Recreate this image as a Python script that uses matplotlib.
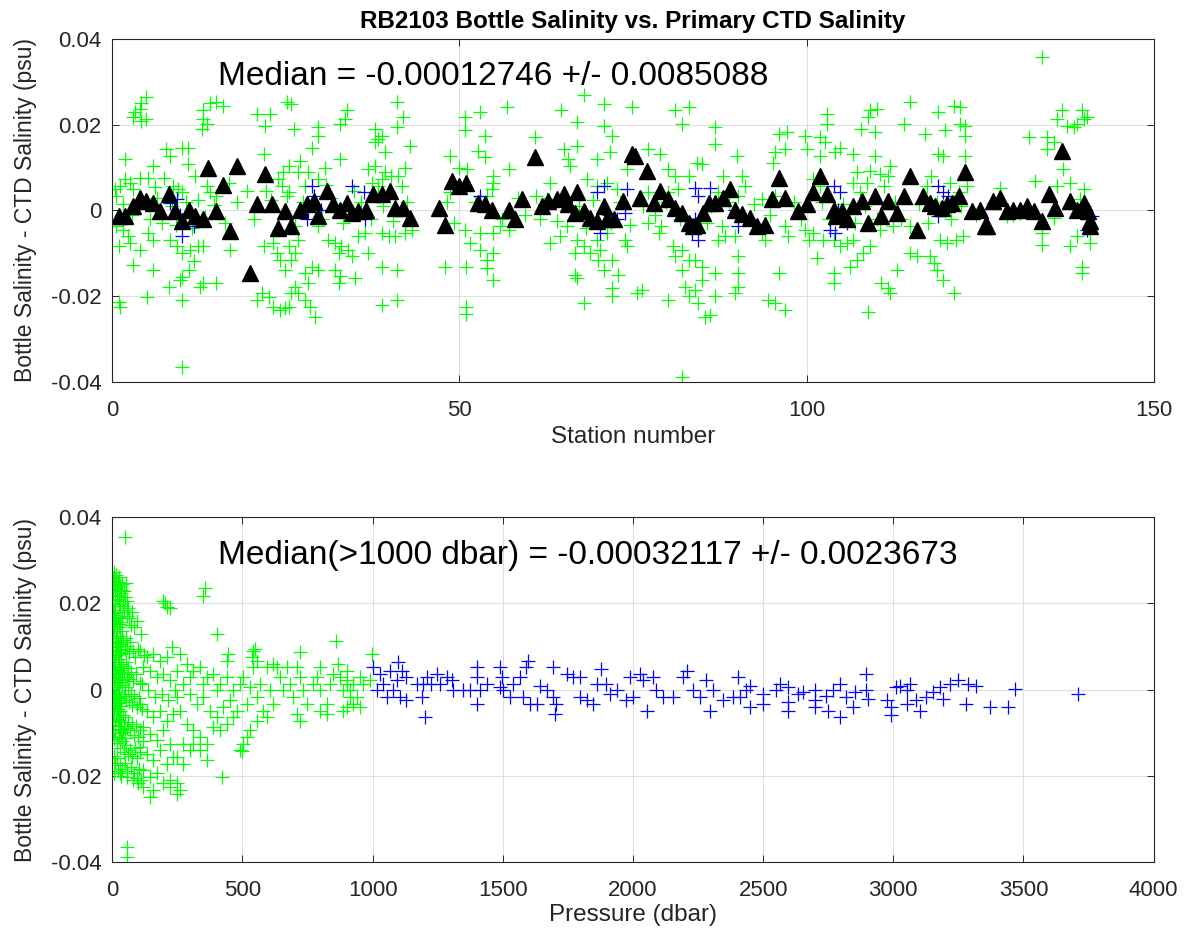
import numpy as np
import matplotlib
matplotlib.use('Agg')
import matplotlib.pyplot as plt

plt.rcParams['font.family'] = ['Liberation Sans', 'DejaVu Sans']

# ---- top panel: salinity difference vs station ----
# all bottles (station, bottle - ctd)
green_top = np.array([
    (4.9, 0.0265), (4.2, 0.025), (3.3, 0.023), (4.0, 0.0238), (3.0, 0.0218), (4.9, 0.0214), (4.2, 0.0208),
    (15.0, 0.0253), (14.1, 0.025), (16.0, 0.0245), (13.1, 0.0234), (13.1, 0.0214), (13.6, 0.0202), (12.9, 0.019),
    (20.8, 0.0226), (22.7, 0.0226), (22.0, 0.0198), (25.1, 0.0253),
    (7.8, 0.0143), (10.0, 0.0147), (10.9, 0.0147), (1.8, 0.012), (5.9, 0.0104), (10.9, 0.0108), (8.3, 0.0128), (21.8, 0.0132),
    (11.9, 0.0081), (4.0, 0.0077), (5.2, 0.0077), (0.4, 0.005), (1.1, 0.0057), (1.8, 0.0073), (2.5, 0.0065), (3.0, 0.005), (0.6, 0.0034),
    (8.8, 0.0057), (9.5, 0.005), (10.0, 0.0042), (13.6, 0.0057), (14.1, 0.0042), (15.0, 0.0034),
    (24.6, 0.0089), (23.9, 0.0073), (24.4, 0.0057), (25.1, 0.0034), (22.2, 0.0045),
    (0.6, -0.0037), (1.6, -0.0045), (2.3, -0.006), (0.9, -0.0084), (2.5, -0.0076), (4.0, -0.0092), (5.9, -0.0068), (5.2, -0.0053),
    (3.0, -0.0127), (5.9, -0.0139), (8.1, -0.0178), (5.0, -0.0202), (0.9, -0.0213), (1.1, -0.0225), (10.0, -0.021), (10.0, -0.0366),
    (8.3, -0.0068), (9.3, -0.0084), (10.0, -0.01), (11.2, -0.0092), (12.4, -0.0084), (11.7, -0.0119), (13.1, -0.0084),
    (10.0, -0.0155), (11.0, -0.0139), (9.8, -0.0162), (12.6, -0.0178), (13.1, -0.017), (15.0, -0.017), (17.0, -0.0092),
    (21.8, -0.0084), (23.2, -0.0076), (23.7, -0.01), (24.2, -0.0115), (24.9, -0.0139),
    (21.5, -0.0194), (20.8, -0.0209), (22.5, -0.0202), (23.2, -0.0225), (24.2, -0.0233), (24.9, -0.0229),
    (1.5, 0.0015), (2.8, -0.001), (3.8, 0.002), (5.5, -0.002), (6.5, 0.003), (7.2, -0.003), (8.6, 0.001), (9.2, -0.0035),
    (10.6, 0.002), (11.5, -0.004), (12.3, 0.0025), (13.4, -0.0015), (14.6, 0.0012), (16.2, -0.003), (18.0, 0.002),
    (20.4, -0.002), (22.9, 0.0025), (24.0, -0.0045), (6.2, 0.0055), (7.5, 0.0075), (16.8, 0.0065), (19.4, 0.0045),
    (25.8, 0.0249), (26.1, 0.019), (33.8, 0.0234), (33.5, 0.0214), (32.8, 0.0202), (29.7, 0.0194), (29.7, 0.0175), (28.7, 0.0147),
    (41.0, 0.0253), (41.9, 0.0218), (41.0, 0.0194), (37.8, 0.019), (38.3, 0.0167), (38.8, 0.0175), (37.8, 0.0159), (39.3, 0.0136), (42.9, 0.0151),
    (32.8, 0.012), (27.0, 0.0116), (25.4, 0.0104), (28.2, 0.0089), (30.6, 0.01), (29.7, 0.0073),
    (36.9, 0.0096), (37.8, 0.0104), (39.3, 0.0089), (40.2, 0.0081), (42.2, 0.01), (41.2, 0.0081),
    (37.4, 0.0065), (38.8, 0.0073), (38.3, 0.0057), (39.8, 0.0042), (41.7, 0.0057),
    (48.7, 0.0128), (49.9, 0.01), (49.4, 0.0057), (48.7, 0.0042), (26.8, 0.0089), (27.8, 0.0057), (25.4, 0.0042),
    (26.3, -0.0037), (26.8, -0.0068), (25.4, -0.0084), (26.3, -0.01), (25.8, -0.0115),
    (29.7, -0.0037), (31.1, -0.0068), (32.1, -0.0076), (33.0, -0.0084), (34.0, -0.0092), (34.5, -0.0107), (32.6, -0.01),
    (36.9, -0.01), (36.4, -0.0053), (35.4, -0.006), (38.8, -0.0053), (39.8, -0.006), (40.7, -0.006), (42.2, -0.0053), (43.1, -0.0045),
    (28.7, -0.0131), (29.7, -0.0139), (27.8, -0.0147), (28.2, -0.017), (26.3, -0.0178), (25.8, -0.0194), (26.8, -0.0194), (25.4, -0.0225),
    (27.8, -0.0209), (28.5, -0.0225), (29.2, -0.0249), (32.1, -0.0139), (32.8, -0.0154), (32.6, -0.017), (35.0, -0.0158),
    (38.8, -0.0131), (41.0, -0.0139), (41.0, -0.0209), (38.8, -0.0221), (47.9, -0.0131),
    (27.5, 0.002), (30.2, -0.002), (31.5, 0.003), (33.2, -0.003), (35.8, 0.002), (37.2, -0.002), (39.0, 0.001),
    (40.5, -0.0025), (42.5, 0.002), (48.2, 0.002), (49.2, -0.003), (34.8, 0.0045), (30.8, 0.006),
    (50.8, 0.0218), (50.8, 0.0187), (53.0, 0.023), (56.8, 0.0241), (53.7, 0.0175), (60.9, 0.0171), (64.7, 0.0234), (66.9, 0.0206), (67.9, 0.0269),
    (70.8, 0.0249), (70.8, 0.0198), (72.0, 0.0175), (71.7, 0.0136), (74.8, 0.0241),
    (52.7, 0.014), (53.7, 0.0124), (57.1, 0.0096), (51.1, 0.0096), (54.9, 0.0081),
    (65.0, 0.0143), (66.9, 0.0151), (65.7, 0.012), (66.0, 0.0104), (69.8, 0.012), (74.1, 0.0096), (63.1, 0.0065),
    (54.9, 0.0065), (54.7, 0.0049), (54.0, 0.0034), (61.1, 0.0034), (62.6, 0.0026),
    (68.4, 0.0073), (69.8, 0.0057), (71.2, 0.0065), (72.7, 0.0049),
    (50.8, -0.0045), (53.0, -0.0053), (54.9, -0.0053), (55.9, -0.0037), (57.1, -0.0045), (51.5, -0.0076), (53.0, -0.0092),
    (54.9, -0.01), (54.0, -0.0115), (51.0, -0.0131), (54.0, -0.0135), (54.9, -0.0162), (51.0, -0.0225), (51.0, -0.0241),
    (61.6, -0.0021), (63.1, -0.0076), (64.5, -0.006), (65.5, -0.0037),
    (66.9, -0.0068), (66.7, -0.01), (67.9, -0.0084), (68.8, -0.01), (69.8, -0.0068), (70.3, -0.0092), (70.0, -0.0115), (71.2, -0.0053),
    (66.7, -0.0151), (66.9, -0.0158), (67.9, -0.0217),
    (70.8, -0.0139), (72.0, -0.0115), (72.9, -0.0151), (72.0, -0.0182), (72.0, -0.0201),
    (73.9, -0.0068), (74.1, -0.0084), (75.6, -0.0194),
    (52.2, 0.002), (56.2, -0.002), (58.5, 0.003), (59.5, -0.001), (62.2, 0.0015), (64.0, -0.0025), (67.2, 0.001),
    (68.2, -0.004), (69.2, 0.0025), (71.8, -0.003), (73.2, 0.002), (74.6, -0.0035),
    (81.1, 0.0234), (83.0, 0.0241), (82.0, 0.0202), (86.8, 0.0194), (86.8, 0.0155),
    (90.0, 0.0128), (84.2, 0.0112), (84.9, 0.0108), (77.2, 0.0143), (78.9, 0.0132),
    (96.0, 0.0179), (97.2, 0.0183), (95.5, 0.0136), (96.9, 0.0143), (95.2, 0.0112), (99.8, 0.0175), (100.0, 0.0143),
    (80.1, 0.0096), (81.1, 0.0081), (83.0, 0.0081), (88.0, 0.0081), (90.7, 0.0081), (91.2, 0.0057),
    (77.2, 0.0042), (80.1, 0.0042), (81.5, 0.0049), (87.3, 0.0042), (90.2, 0.0034), (93.6, 0.0026), (95.5, 0.0034),
    (77.2, -0.0029), (79.1, -0.0037), (78.7, -0.0053), (80.8, -0.0084), (82.0, -0.0092), (81.0, -0.0107), (83.0, -0.0115),
    (84.0, -0.0115), (84.9, -0.0131), (82.0, -0.0139),
    (82.5, -0.0178), (84.0, -0.0186), (84.4, -0.0217), (85.4, -0.0249), (86.1, -0.0245), (83.0, -0.0201), (84.9, -0.0162),
    (86.8, -0.0201), (86.8, -0.0147), (82.0, -0.039), (76.3, -0.0186), (80.1, -0.0209),
    (87.3, -0.0068), (88.3, -0.006), (87.8, -0.0037), (89.7, -0.006), (90.2, -0.0107), (90.2, -0.0147), (90.2, -0.0178), (89.7, -0.0194),
    (93.6, -0.0053), (94.0, -0.0068), (96.0, -0.0147), (94.5, -0.0209), (95.5, -0.0217), (96.9, -0.0233),
    (96.9, -0.0037), (97.4, -0.006), (99.8, -0.0045), (100.3, -0.0068),
    (76.5, 0.001), (78.2, -0.001), (79.8, 0.002), (81.8, -0.002), (83.4, -0.004), (85.6, -0.003), (86.3, 0.001),
    (88.8, 0.002), (91.6, -0.002), (92.5, 0.0015), (94.8, -0.001), (98.2, 0.002), (99.2, -0.002),
    (102.9, 0.0226), (102.9, 0.0202), (109.1, 0.0234), (110.1, 0.0238), (108.9, 0.0218), (107.9, 0.019), (109.9, 0.0183),
    (114.9, 0.0253), (114.0, 0.0202), (117.1, 0.0179), (119.0, 0.023), (121.2, 0.0245), (122.1, 0.0241), (120.0, 0.0187),
    (122.8, 0.0198), (122.8, 0.0175), (122.1, 0.0202),
    (101.9, 0.0171), (102.7, 0.0159), (101.9, 0.0128), (104.8, 0.0147), (104.1, 0.0136),
    (106.7, 0.0132), (109.9, 0.0128), (109.1, 0.0093), (110.6, 0.0085), (112.0, 0.0104), (111.8, 0.0081),
    (119.0, 0.0132), (119.7, 0.0128), (122.8, 0.0128), (118.0, 0.0081),
    (101.0, 0.0073), (101.9, 0.0057), (107.2, 0.0089), (106.7, 0.0065), (108.7, 0.0065), (111.1, 0.0057), (107.7, 0.0042),
    (117.3, 0.0057), (120.7, 0.0065), (121.9, 0.0042), (123.1, 0.0057),
    (101.0, -0.0053), (102.4, -0.0068), (101.5, -0.0111), (103.9, -0.0068), (104.8, -0.0084), (105.8, -0.0076), (106.7, -0.0068),
    (103.9, -0.0147), (103.9, -0.017), (106.3, -0.0131), (107.2, -0.0115), (108.2, -0.01), (109.1, -0.0084),
    (108.9, -0.0237), (110.8, -0.017), (111.8, -0.0182), (112.0, -0.0194), (113.0, -0.0139),
    (110.6, -0.0045), (112.5, -0.0037), (114.9, -0.0037),
    (114.9, -0.01), (115.9, -0.0107), (117.8, -0.0107), (118.3, -0.0123), (118.8, -0.0139), (119.7, -0.0162), (121.2, -0.0194),
    (119.2, -0.0068), (120.2, -0.0076), (121.6, -0.0068), (122.6, -0.006),
    (102.2, 0.002), (103.2, -0.002), (105.2, 0.0015), (107.0, -0.003), (108.4, 0.001), (110.2, -0.002), (112.8, 0.002),
    (113.6, -0.002), (116.2, 0.0015), (117.5, -0.003), (118.8, 0.002), (120.8, -0.002), (122.2, 0.001), (124.4, -0.001),
    (133.9, 0.0359), (136.8, 0.0234), (136.1, 0.0214), (137.5, 0.0198), (138.5, 0.0194), (139.7, 0.0234), (140.4, 0.0218),
    (139.9, 0.0214), (138.9, 0.0202),
    (132.0, 0.0171), (134.6, 0.0171), (135.6, 0.0159), (134.6, 0.0143),
    (127.9, 0.0053), (132.9, 0.0069), (136.1, 0.0057), (137.0, 0.0096), (138.0, 0.0065), (139.9, 0.0049), (139.4, 0.0026),
    (135.6, -0.0017), (133.9, -0.0053), (133.9, -0.008), (138.0, -0.0084), (138.9, -0.006), (140.9, -0.0053), (140.9, -0.0076),
    (139.7, -0.0131), (139.7, -0.0147), (140.9, -0.0037),
    (126.9, 0.0018), (128.9, -0.0013), (129.8, -0.001), (130.8, -0.0005),
])

# deep bottles (> 1000 dbar)
blue_top = np.array([
    (10.0, -0.006), (8.3, 0.0018), (9.3, 0.0026), (11.7, -0.0037), (9.8, -0.001),
    (28.7, 0.0057), (29.0, 0.0034), (28.0, -0.0021), (34.5, 0.0057), (36.2, 0.0042), (36.4, -0.0021), (28.2, 0.0002), (30.0, 0.0),
    (53.0, 0.0034), (69.8, 0.0042), (70.8, 0.0057), (70.3, -0.0053), (72.7, -0.0021), (74.1, 0.0049), (73.9, -0.0005), (71.5, -0.001),
    (83.9, 0.0053), (84.4, 0.0034), (83.5, -0.0053), (84.4, -0.0068), (86.1, 0.0053), (89.7, 0.0002), (90.2, -0.0037), (84.0, -0.002),
    (103.9, 0.0057), (104.8, 0.0042), (103.4, -0.0045), (104.1, -0.0053), (105.8, -0.0029), (104.5, 0.0),
    (119.0, 0.0057), (119.0, -0.0013), (119.7, 0.0042), (120.4, 0.0034), (120.0, 0.0),
    (139.9, 0.001), (140.4, -0.0045), (141.1, -0.0013), (140.5, -0.002),
])

# station medians
median_top = np.array([
    (0.9, -0.0013), (1.8, -0.0013), (3.0, 0.001), (4.0, 0.003), (4.9, 0.0022), (5.9, 0.0018), (6.9, -0.0002),
    (8.1, 0.0038), (9.0, -0.0002), (10.0, -0.0025), (11.0, 0.0002), (11.9, -0.0013), (13.1, -0.002), (13.8, 0.01),
    (15.0, -0.0002), (16.0, 0.006), (17.0, -0.0049), (17.9, 0.0104), (19.8, -0.0147), (20.8, 0.0014), (22.0, 0.0085),
    (23.0, 0.0014), (23.9, -0.004), (24.9, -0.0002),
    (25.8, -0.0037), (27.0, 0.0002), (28.0, 0.0014), (29.0, 0.0022), (29.7, -0.0013), (30.9, 0.0045), (31.8, 0.0014),
    (32.8, 0.0002), (33.8, 0.0018), (34.5, -0.0005), (35.4, -0.0002), (36.6, 0.0002), (37.6, 0.0038), (38.8, 0.0038),
    (40.0, 0.0045), (40.7, 0.0006), (41.9, 0.0006), (42.9, -0.0017), (47.0, 0.0006), (47.9, -0.0033), (48.9, 0.0069),
    (49.9, 0.0057),
    (51.0, 0.0065), (52.7, 0.0018), (53.7, 0.0014), (54.7, 0.0002), (57.1, 0.0002), (58.0, -0.0021), (59.0, 0.0026),
    (60.9, 0.0124), (61.9, 0.001), (62.8, 0.0022), (64.0, 0.0026), (65.0, 0.0038), (65.7, 0.0014), (66.9, 0.0042),
    (66.7, -0.0005), (67.9, -0.0002), (68.8, -0.0017), (69.8, -0.0025), (70.8, 0.001), (71.2, -0.0021), (72.2, -0.0021),
    (73.6, 0.0022), (74.8, 0.0132),
    (75.3, 0.0128), (76.0, 0.003), (77.0, 0.0093), (78.0, 0.0018), (78.9, 0.0045), (80.1, 0.0026), (81.1, 0.0006),
    (82.0, -0.0005), (83.0, -0.0029), (83.7, -0.0037), (84.2, -0.0033), (85.1, -0.0005), (85.9, 0.0018), (86.8, 0.0018),
    (88.0, 0.003), (89.0, 0.0049), (89.7, 0.0002), (90.7, -0.0009), (91.9, -0.0017), (92.8, -0.0037), (94.0, -0.0033),
    (95.0, 0.0026), (96.0, 0.0077), (96.9, 0.003), (98.8, -0.0002), (100.0, 0.0014), (101.0, 0.0042),
    (101.9, 0.0081), (102.9, 0.0038), (103.9, 0.0002), (104.3, -0.0013), (105.1, -0.0002), (105.8, -0.0021),
    (106.7, 0.001), (108.0, 0.0022), (108.9, -0.0029), (109.9, 0.0034), (110.8, -0.0013), (111.8, 0.0022),
    (113.0, -0.0005), (114.0, 0.0034), (114.9, 0.0081), (115.9, -0.0045), (116.8, 0.0034), (117.8, 0.0018),
    (118.5, 0.001), (119.5, 0.0006), (120.2, 0.0014), (120.9, 0.0018), (121.9, 0.0034), (122.8, 0.0089),
    (123.8, -0.0002), (125.0, 0.0002), (125.7, -0.0037),
    (126.0, -0.0037), (126.9, 0.0022), (127.9, 0.003), (128.9, -0.0002), (129.8, 0.0002), (130.8, 0.0002),
    (131.7, 0.001), (132.7, -0.0002), (133.9, -0.0025), (134.9, 0.0038), (135.8, 0.0006), (136.8, 0.014),
    (138.0, 0.0022), (138.9, 0.0002), (139.9, 0.0018), (140.6, -0.0002), (140.9, -0.0025), (140.9, -0.0037),
])

# ---- bottom panel: salinity difference vs pressure ----
green_bot = np.array([
    (49, 0.0355), (55, -0.0366), (57, -0.0389), (356, 0.0236), (350, 0.0217), (202, 0.0201), (222, 0.019),
    (196, 0.0206), (209, 0.0191), (401, 0.0128), (446, 0.0082), (439, 0.0066), (420, -0.0204), (497, -0.0142),
    (516, -0.0111), (542, 0.009), (554, 0.0066), (861, 0.0113), (721, 0.0086), (548, 0.0094), (535, 0.0075), (996, 0.0083),
    (3, 0.026), (6, 0.024), (9, 0.0255), (12, 0.022), (4, 0.020), (15, 0.0265), (18, 0.023), (21, 0.025), (8, 0.018),
    (25, 0.021), (28, 0.024), (31, 0.0195), (35, 0.0225), (40, 0.0205), (45, 0.0185), (50, 0.0215), (55, 0.017),
    (60, 0.019), (65, 0.0165), (70, 0.015), (75, 0.018), (85, 0.0145), (95, 0.016), (110, 0.013), (2, 0.0235),
    (13, 0.0245), (24, 0.0262), (37, 0.0245), (44, 0.0228), (52, 0.0248),
    (1, 0.0255), (7, 0.0272), (11, 0.0208), (19, 0.0218), (27, 0.0198), (33, 0.0232), (42, 0.0195), (57, 0.0205),
    (2, 0.016), (5, 0.014), (10, 0.0155), (14, 0.012), (17, 0.0135), (22, 0.011), (26, 0.0145), (30, 0.0125),
    (34, 0.0105), (38, 0.0135), (42, 0.0115), (47, 0.0095), (52, 0.012), (58, 0.01), (63, 0.0085), (68, 0.011),
    (78, 0.009), (88, 0.0075), (100, 0.0095), (120, 0.008),
    (1, 0.0185), (6, 0.0172), (12, 0.0178), (16, 0.0162), (20, 0.0168), (24, 0.0152), (29, 0.0158), (36, 0.0165),
    (3, 0.009), (7, 0.0075), (11, 0.0065), (16, 0.008), (20, 0.0055), (24, 0.007), (29, 0.0045), (33, 0.006),
    (37, 0.0035), (41, 0.0055), (46, 0.004), (51, 0.0065), (56, 0.003), (61, 0.005), (66, 0.0025), (72, 0.004),
    (80, 0.002), (90, 0.0035), (105, 0.0015),
    (1, 0.0112), (4, 0.0125), (9, 0.0108), (13, 0.0098), (19, 0.0102), (23, 0.0088), (28, 0.0092), (32, 0.0082),
    (2, 0.003), (5, 0.001), (9, 0.0025), (13, -0.0005), (18, 0.0015), (23, -0.001), (27, 0.0005), (32, -0.002),
    (36, 0.001), (43, -0.0015), (48, 0.0005), (54, -0.0025), (59, 0.0), (64, -0.003), (70, -0.001), (76, -0.0035),
    (84, -0.0015), (93, -0.004), (102, -0.002), (115, -0.0045),
    (1, 0.0052), (6, 0.0042), (10, 0.0048), (15, 0.0035), (21, 0.0038), (26, 0.0028), (31, 0.0018), (39, 0.0022),
    (4, -0.004), (8, -0.0055), (12, -0.0035), (17, -0.006), (21, -0.0045), (26, -0.007), (31, -0.005), (35, -0.0075),
    (40, -0.006), (45, -0.0085), (50, -0.0065), (57, -0.009), (62, -0.0075), (67, -0.0095), (74, -0.008), (82, -0.0105),
    (90, -0.0085), (98, -0.011), (108, -0.0095), (118, -0.012),
    (1, -0.0012), (6, -0.0022), (10, -0.0015), (15, -0.0028), (20, -0.0018), (25, -0.0032), (29, -0.0025), (34, -0.0038),
    (3, -0.01), (7, -0.0115), (12, -0.0095), (18, -0.0125), (24, -0.011), (30, -0.0135), (37, -0.012), (44, -0.0145),
    (52, -0.013), (60, -0.015), (68, -0.014), (77, -0.0155), (86, -0.0135), (96, -0.016), (106, -0.0145),
    (2, -0.0072), (9, -0.0082), (14, -0.0068), (22, -0.0085), (28, -0.0092), (33, -0.0102), (41, -0.0098), (47, -0.0112),
    (5, -0.0155), (11, -0.017), (19, -0.016), (28, -0.0175), (38, -0.0185), (48, -0.017), (58, -0.019), (70, -0.018),
    (82, -0.0195), (94, -0.0205), (104, -0.0185), (112, -0.021), (8, -0.0195), (20, -0.019), (34, -0.02),
    (107, 0.009), (132, 0.0075), (158, 0.0083), (183, 0.0067), (209, 0.0075), (228, 0.0098), (119, 0.0052),
    (145, 0.0044), (170, 0.0029), (196, 0.0036), (222, 0.0021), (113, 0.0013), (138, -0.0002), (164, -0.0018),
    (190, -0.001), (215, -0.0025), (241, -0.0002), (107, -0.0033), (132, -0.0049), (158, -0.0064), (183, -0.0049),
    (209, -0.0072), (235, -0.0056), (119, -0.0087), (145, -0.0103), (170, -0.0118), (196, -0.0095), (222, -0.0126),
    (107, -0.0134), (132, -0.0149), (158, -0.0164), (183, -0.0141), (209, -0.0172), (235, -0.0157), (119, -0.0188),
    (145, -0.0203), (170, -0.0195), (196, -0.0218), (222, -0.0226), (158, -0.0234), (247, -0.0242), (100, -0.0218),
    (260, -0.0234), (247, -0.0218), (222, -0.0211), (145, -0.0249), (119, -0.0226), (81, -0.0211), (55, -0.0203), (30, -0.0195),
    (260, 0.0083), (286, 0.0059), (311, 0.0044), (337, 0.0052), (362, 0.0029), (388, 0.0036), (414, 0.0013),
    (440, 0.0029), (465, -0.0002), (491, 0.0013), (273, 0.0013), (299, -0.001), (324, -0.0033), (350, -0.0018),
    (375, -0.0049), (401, -0.0064), (427, -0.0041), (452, -0.0025), (478, -0.0049), (260, -0.0049), (286, -0.008),
    (311, -0.0095), (337, -0.011), (362, -0.0126), (273, -0.0126), (299, -0.0141), (247, -0.0157), (273, -0.0172),
    (388, -0.0087), (414, -0.0095), (440, -0.008), (247, 0.0044), (299, 0.0029), (350, 0.0013), (401, -0.0002),
    (247, -0.0018), (465, -0.0064), (362, -0.0164), (337, -0.0141), (311, -0.0126),
    (503, 0.0029), (529, 0.0005), (555, -0.0018), (567, 0.0013), (593, 0.0052), (606, -0.0002), (618, -0.0033),
    (644, 0.0029), (657, -0.0002), (670, 0.0052), (682, 0.0013), (695, -0.0018), (721, 0.0029), (734, -0.0002),
    (746, -0.0033), (772, 0.0013), (798, -0.0002), (785, 0.0029), (823, -0.0033), (836, 0.0013), (849, 0.0036),
    (874, 0.0029), (887, -0.0002), (900, 0.0021), (926, 0.0013), (913, -0.0018), (516, -0.0033), (542, 0.0052),
    (580, -0.0049), (631, 0.0052), (708, -0.0056), (798, -0.0049), (555, -0.0072), (529, -0.0095),
    (868, 0.0059), (798, 0.0052), (708, 0.0052), (618, 0.0059), (900, -0.0041), (823, -0.0056), (721, -0.0072),
    (593, -0.0064), (503, -0.0126), (490, -0.0141),
    (900, 0.0013), (913, -0.0002), (938, -0.0018), (926, -0.0033), (951, 0.0029), (964, 0.0013), (990, 0.0021),
    (900, 0.0044), (887, -0.0049), (951, -0.0041),
])

blue_bot = np.array([
    (1002, 0.0052), (1028, 0.0036), (1066, 0.0044), (1098, 0.0063), (1111, 0.0044), (1130, 0.0029), (1092, 0.0021),
    (1041, 0.0013), (1015, -0.0002), (1054, -0.0018), (1105, -0.0018), (1130, -0.0025), (1079, -0.0002),
    (1169, 0.0013), (1194, 0.0013), (1207, 0.0029), (1188, -0.0018), (1201, -0.0064), (1226, 0.0013), (1246, 0.0036),
    (1258, 0.0013), (1284, 0.0029), (1303, 0.0021), (1310, -0.0002), (1348, -0.0002), (1374, -0.0002), (1399, 0.0052),
    (1399, 0.0029), (1399, -0.0033), (1412, -0.0002), (1438, 0.0013), (1489, 0.0052), (1495, 0.0029), (1489, 0.0005),
    (1502, -0.0002), (1527, -0.0018), (1540, 0.0013), (1566, 0.0029), (1591, 0.0052), (1598, 0.0067), (1578, -0.0018),
    (1604, -0.0033), (1630, -0.0033), (1642, 0.0009), (1668, -0.0002), (1694, 0.0052), (1694, -0.0018), (1700, -0.0056),
    (1706, -0.0033), (1745, 0.0036), (1770, 0.0029), (1796, 0.0029), (1796, -0.0018), (1822, -0.0025), (1847, -0.0033),
    (1860, 0.0013), (1879, 0.0048), (1898, 0.0013), (1911, -0.001), (1937, -0.0002), (1975, -0.0025), (1988, 0.0029),
    (2001, -0.0018), (2026, 0.0036), (2039, 0.0021), (2052, -0.0049), (2078, 0.0029), (2090, -0.0002), (2116, -0.0018),
    (2154, -0.0018), (2193, 0.0029), (2206, 0.0044), (2231, -0.0002), (2257, -0.0018), (2282, 0.0021), (2295, -0.0049),
    (2308, -0.0002), (2346, -0.0025), (2385, -0.0018), (2404, 0.0029), (2410, -0.0018), (2436, -0.0002), (2449, -0.0041),
    (2449, 0.0009), (2500, -0.001), (2500, -0.0033), (2551, -0.0002), (2564, 0.0013), (2596, 0.0005), (2596, -0.0029),
    (2596, -0.0049), (2634, -0.001), (2654, -0.0006), (2698, -0.0002), (2698, -0.0025), (2698, -0.0041), (2743, -0.0014),
    (2750, -0.0049), (2769, -0.0002), (2794, 0.0013), (2794, -0.0064), (2820, -0.0018), (2846, -0.0041), (2852, -0.0006),
    (2897, 0.0036), (2897, -0.0002), (2903, -0.0022), (2974, -0.0025), (2993, -0.0041), (2993, -0.006), (3012, 0.0005),
    (3025, 0.0009), (3051, -0.0033), (3063, 0.0013), (3051, -0.0002), (3089, -0.0025), (3102, -0.0049), (3127, -0.0018),
    (3153, -0.0006), (3178, 0.0005), (3191, -0.0022), (3217, 0.0013), (3249, 0.0021), (3281, -0.0033), (3287, 0.0013),
    (3319, 0.0009), (3370, -0.0041), (3441, -0.0041), (3466, 0.0002), (3710, -0.001),
])

median_all = '-0.00012746 +/- 0.0085088'
median_deep = '-0.00032117 +/- 0.0023673'

GREEN = '#00ff00'
BLUE = '#0000ff'
AXC = '#262626'


def style(ax, xlim, xticks):
    ax.set_xlim(xlim)
    ax.set_ylim(-0.04, 0.04)
    ax.set_xticks(xticks)
    ax.set_yticks([-0.04, -0.02, 0, 0.02, 0.04])
    ax.set_yticklabels(['-0.04', '-0.02', '0', '0.02', '0.04'])
    ax.grid(True, color='#dfdfdf', linewidth=0.8)
    ax.set_axisbelow(True)
    ax.tick_params(direction='in', top=True, right=True, length=5, width=0.7,
                   colors=AXC, labelsize=16)
    ax.tick_params(axis='x', pad=13)
    ax.tick_params(axis='y', pad=8)
    for s in ax.spines.values():
        s.set_color(AXC)
        s.set_linewidth(0.8)


fig = plt.figure(figsize=(11.86, 9.35), dpi=100)
ax1 = fig.add_axes([0.0947, 0.5918, 0.878, 0.3662])
ax2 = fig.add_axes([0.0947, 0.0784, 0.878, 0.3683])

ax1.plot(green_top[:, 0], green_top[:, 1], '+', color=GREEN, ms=10, mew=0.9)
ax1.plot(blue_top[:, 0], blue_top[:, 1], '+', color=BLUE, ms=10, mew=0.9)
ax1.plot(median_top[:, 0], median_top[:, 1], '^', color='black', ms=11, mec='black')
style(ax1, (0, 150), [0, 50, 100, 150])
ax1.set_xlabel('Station number', fontsize=17.5, color=AXC, labelpad=4)
ax1.set_ylabel('Bottle Salinity - CTD Salinity (psu)', fontsize=16.5, color=AXC, labelpad=10)
ax1.set_title('RB2103 Bottle Salinity vs. Primary CTD Salinity', fontsize=17.5,
              fontweight='bold', pad=8)
ax1.text(15.2, 0.0292, 'Median = ' + median_all, fontsize=24, color='black')

ax2.plot(green_bot[:, 0], green_bot[:, 1], '+', color=GREEN, ms=10, mew=0.9)
ax2.plot(blue_bot[:, 0], blue_bot[:, 1], '+', color=BLUE, ms=10, mew=0.9)
style(ax2, (0, 4000), list(range(0, 4001, 500)))
ax2.set_xlabel('Pressure (dbar)', fontsize=17.5, color=AXC, labelpad=2)
ax2.set_ylabel('Bottle Salinity - CTD Salinity (psu)', fontsize=16.5, color=AXC, labelpad=10)
ax2.text(406, 0.0292, 'Median(>1000 dbar) = ' + median_deep, fontsize=24, color='black')

fig.savefig('out.png', dpi=100)
